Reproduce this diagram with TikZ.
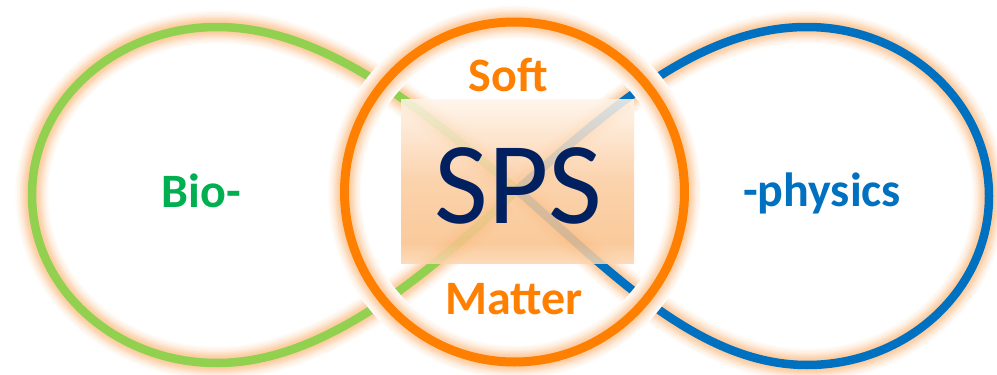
\documentclass[tikz,border=0pt]{standalone}
\usepackage{fontspec}
\setmainfont{Carlito}
\definecolor{lgreen}{HTML}{92D050}
\definecolor{lblue}{HTML}{0070C0}
\definecolor{ringc}{HTML}{FF8000}
\definecolor{tgreen}{HTML}{00B050}
\definecolor{tblue}{HTML}{0070C0}
\definecolor{torange}{HTML}{FF8000}
\definecolor{navy}{HTML}{002060}
\definecolor{glowbase}{HTML}{F9A65A}
\definecolor{boxtop}{HTML}{FFF4EA}
\definecolor{boxmid}{HTML}{FAC28C}
\definecolor{boxbot}{HTML}{FCD6B0}
\pgfdeclareverticalshading{boxshade}{100bp}{color(0bp)=(boxbot); color(25bp)=(boxbot); color(31bp)=(boxmid); color(50bp)=(boxmid!80!boxtop); color(75bp)=(boxtop); color(100bp)=(boxtop)}
\tikzset{
  glowed/.style={
    preaction={draw=glowbase!5!white,line width=33pt},
    preaction={draw=glowbase!10!white,line width=30pt},
    preaction={draw=glowbase!16!white,line width=27pt},
    preaction={draw=glowbase!23!white,line width=24pt},
    preaction={draw=glowbase!31!white,line width=21pt},
    preaction={draw=glowbase!40!white,line width=18pt},
    preaction={draw=glowbase!48!white,line width=15pt},
    preaction={draw=glowbase!55!white,line width=12pt}},
  loopline/.style={line width=8.5pt},
  lbl/.style={font=\fontsize{48}{48}\selectfont\bfseries, inner sep=0pt, anchor=base},
}
\newcommand\greenpath{(C) .. controls (427,114) and (327,27) .. (gt) .. controls (117,27) and (32,100) .. (gl) .. controls (32,290) and (117,363) .. (gb) .. controls (327,363) and (432,270) .. (C)}
\newcommand\bluepath{(C) .. controls (607,112) and (697,27) .. (bt) .. controls (907,27) and (989,103) .. (br) .. controls (989,290) and (907,365) .. (bb) .. controls (697,365) and (607,268) .. (C)}
\begin{document}
\begin{tikzpicture}[x=1pt,y=-1pt]
\useasboundingbox[fill=white] (0,0) rectangle (997,375);
\coordinate (C) at (517,190);
\coordinate (gt) at (217,27);
\coordinate (gl) at (32,195);
\coordinate (gb) at (217,363);
\coordinate (bt) at (807,27);
\coordinate (br) at (989,196);
\coordinate (bb) at (807,365);
\coordinate (oc) at (514.5,192);
% loops
\path[glowed] \greenpath;
\path[glowed] \bluepath;
\draw[loopline, lgreen] \greenpath;
\draw[loopline, lblue] \bluepath;
% ring
\draw[glowed, ringc, line width=9pt] (oc) circle[radius=170pt];
% box
\node[minimum width=233pt, minimum height=164pt, inner sep=0pt, shading=boxshade, fill opacity=0.86] (box) at (517.5,181) {};
\node[inner sep=0pt, anchor=base, text=navy, font=\fontsize{117}{117}\selectfont] (sps) at (518.5,223) {SPS};
\node[lbl, text=torange] (soft) at (508,91.7) {Soft};
\node[lbl, text=torange] (matter) at (514,314.3) {Matter};
\node[lbl, text=tgreen] (bio) at (201.5,207) {Bio-};
\node[lbl, text=tblue] (phys) at (822,206.7) {-physics};
\end{tikzpicture}
\end{document}
